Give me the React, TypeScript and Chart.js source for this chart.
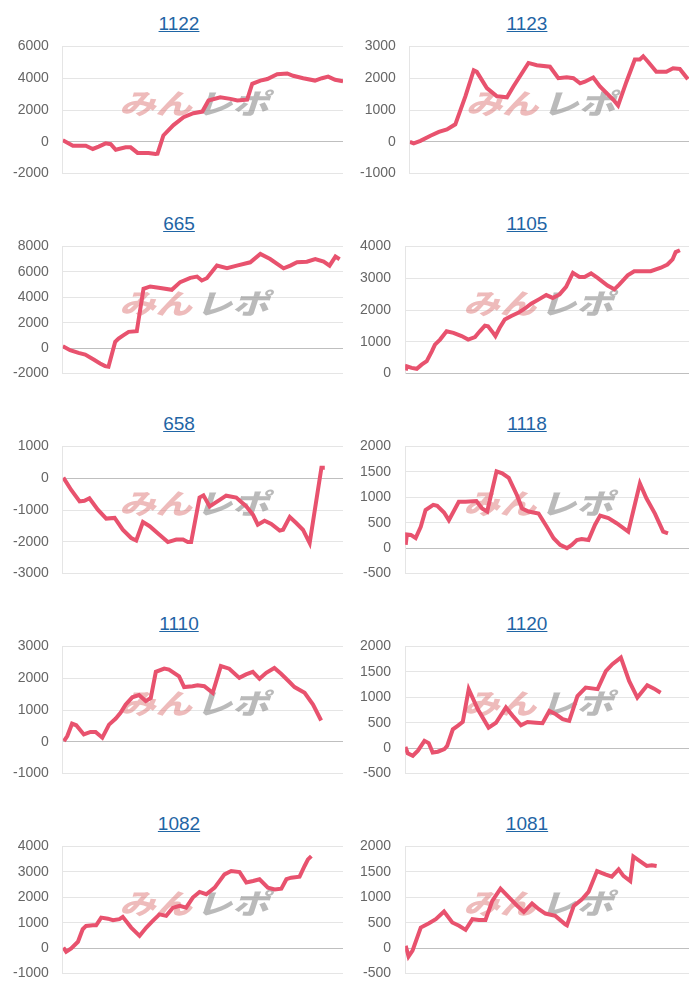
import React, { useEffect, useRef } from "react";
import { Chart, registerables } from "chart.js";

Chart.register(...registerables);

// ---- data ----
const titles = ["1122", "1123", "665", "1105", "658", "1118", "1110", "1120", "1082", "1081"];

const x1122 = [0, 3.6, 8.2, 10.7, 12.8, 15.3, 17.1, 18.9, 22.4, 24.2, 26.7, 30.6, 33.1, 33.8, 35.9, 39.5, 43.1, 46.6, 49.8, 52, 56.2, 59.8, 62.3, 65.8, 67.6, 70.5, 73, 76.5, 80.1, 82.2, 85.8, 90, 92.5, 94.7, 97.2, 100];
const y1122 = [100, -250, -250, -450, -300, -100, -150, -500, -350, -350, -700, -700, -770, -750, 400, 1050, 1550, 1800, 1900, 2600, 2800, 2700, 2600, 2650, 3650, 3850, 3950, 4250, 4300, 4150, 4000, 3850, 4000, 4100, 3900, 3800];

const x1123 = [0, 1.4, 3.8, 7.4, 10.4, 13.3, 16.3, 19.9, 22.9, 24, 27.6, 31.2, 34.8, 37.1, 42.5, 45.5, 50.2, 53.2, 56.2, 58.6, 61, 62.7, 65.7, 68.1, 72.9, 74.6, 77.6, 80.6, 82.4, 83.6, 85.4, 88.3, 91.9, 94.3, 96.7, 99.6];
const y1123 = [0, -50, 30, 190, 310, 390, 550, 1430, 2250, 2200, 1690, 1430, 1400, 1740, 2480, 2410, 2360, 2000, 2030, 2000, 1840, 1890, 2020, 1740, 1320, 1140, 1890, 2590, 2590, 2690, 2510, 2200, 2200, 2310, 2290, 1970];

const x665 = [0, 2.6, 5.6, 8, 11, 13.3, 15.1, 16.3, 18.7, 19.9, 21.7, 23.5, 26.4, 28.8, 31.2, 34.2, 38.9, 41.9, 45.5, 47.9, 49.6, 51.4, 55, 58.6, 62.1, 66.9, 70.5, 74, 78.8, 81.2, 83.6, 87.1, 90.1, 93.1, 95.2, 97.3, 98.8];
const y665 = [160, -160, -370, -500, -890, -1200, -1410, -1460, 500, 760, 1020, 1280, 1330, 4670, 4850, 4750, 4590, 5190, 5530, 5630, 5320, 5500, 6490, 6280, 6490, 6750, 7410, 7010, 6280, 6490, 6750, 6800, 7010, 6800, 6490, 7200, 6990];

const x1105 = [0.2, 0.6, 2.3, 4.1, 5.8, 7.6, 9.4, 10.5, 12.3, 14.6, 17, 19.9, 22.2, 24.6, 26.3, 28.1, 29.2, 31, 31.8, 33.3, 35.1, 37.4, 39.8, 42.1, 44.4, 47.4, 49.7, 52, 54.4, 56.7, 59.1, 61.4, 63.2, 65.5, 67.8, 71.3, 73.7, 75.4, 78.4, 80.7, 84.2, 86.5, 90.1, 92.4, 94.2, 95.3, 96.8];
const y1105 = [100, 230, 180, 150, 280, 390, 700, 910, 1070, 1330, 1280, 1180, 1070, 1150, 1330, 1510, 1490, 1280, 1180, 1440, 1700, 1810, 1910, 2040, 2200, 2350, 2470, 2380, 2490, 2730, 3170, 3040, 3040, 3150, 3010, 2770, 2650, 2800, 3090, 3220, 3220, 3220, 3330, 3430, 3590, 3820, 3880];

const x658 = [0.2, 3, 6, 7.7, 9.5, 12.5, 15.5, 18.5, 21.4, 24.4, 26.2, 28.6, 31, 34.5, 37.5, 40.5, 42.9, 44.6, 45.8, 48.8, 50.2, 52.4, 56, 58.3, 61.9, 65.5, 67.9, 69.6, 72, 74.4, 77.4, 78.6, 81, 83.3, 85.7, 88.1, 92.3, 93.5];
const y658 = [20, -370, -730, -710, -630, -990, -1270, -1250, -1620, -1880, -1960, -1380, -1510, -1780, -2010, -1930, -1930, -2010, -2010, -610, -540, -890, -680, -550, -610, -890, -1150, -1460, -1340, -1440, -1650, -1620, -1220, -1410, -1620, -2040, 330, 330];

const x1118 = [0.2, 0.6, 2, 3.7, 5.5, 7.2, 9.9, 11.3, 13.7, 15.4, 18.9, 21.3, 25.1, 27.1, 28.9, 32.2, 34.2, 36.5, 39.4, 41.2, 43.5, 47, 49.9, 52.3, 54.6, 57, 58.7, 60.5, 62.2, 64.6, 66.9, 68.7, 71.6, 74.5, 78.6, 82.7, 85, 88, 90.9, 92.6];
const y1118 = [65, 270, 260, 200, 420, 750, 850, 830, 700, 550, 910, 910, 925, 780, 720, 1510, 1470, 1380, 1040, 780, 720, 680, 420, 195, 65, 0, 65, 160, 180, 160, 460, 640, 590, 490, 325, 1270, 980, 680, 325, 290];

const x1110 = [0.4, 1.6, 3.3, 4.8, 7.5, 9.9, 11.7, 14.1, 16.5, 18.9, 20.6, 22.4, 24.8, 27.2, 29.6, 31.4, 33.2, 36.2, 37.9, 41.5, 43.3, 46.3, 48.1, 50.5, 53.5, 56.4, 59.4, 63, 65.4, 67.8, 70.2, 72.6, 75.5, 77.9, 80.9, 82.7, 86.3, 89.3, 92.2];
const y1110 = [20, 180, 570, 520, 230, 310, 310, 130, 540, 730, 910, 1170, 1400, 1470, 1280, 1380, 2200, 2300, 2270, 2060, 1720, 1750, 1780, 1750, 1540, 2380, 2300, 2010, 2120, 2200, 1980, 2170, 2320, 2140, 1880, 1720, 1540, 1170, 670];

const x1120 = [0.1, 0.9, 2.7, 4.5, 6.8, 8.3, 9.7, 11.5, 13.8, 14.8, 16.8, 18.5, 20.3, 22.4, 25.6, 29.4, 32, 35.5, 37.9, 40.8, 43.1, 46.1, 48.4, 50.8, 53.1, 55.5, 57.8, 60.7, 63.6, 67.8, 70.7, 73, 76, 78.9, 81.8, 85.3, 87.7, 90];
const y1120 = [25, -100, -150, -50, 145, 100, -85, -70, -20, 45, 370, 440, 515, 1160, 765, 405, 500, 800, 635, 450, 515, 500, 490, 730, 665, 570, 535, 1025, 1190, 1160, 1515, 1650, 1780, 1320, 995, 1235, 1170, 1090];

const x1082 = [0.2, 1.2, 3, 5.4, 7.1, 8.3, 10.7, 11.9, 13.7, 16.1, 17.9, 20.2, 21.4, 24.4, 27.4, 29.8, 32.1, 34.5, 36.9, 39.3, 41.7, 44, 46.4, 48.8, 51.2, 54.2, 57.7, 60.1, 63.1, 65.5, 67.9, 70.2, 73.2, 75.6, 78, 79.8, 81.5, 84.5, 86.3, 87.5, 88.7];
const y1082 = [25, -140, -10, 250, 745, 875, 900, 900, 1200, 1160, 1100, 1140, 1230, 810, 485, 810, 1070, 1330, 1270, 1590, 1660, 1590, 1990, 2210, 2120, 2380, 2900, 3030, 2990, 2580, 2640, 2710, 2380, 2310, 2340, 2710, 2770, 2810, 3230, 3490, 3620];

const x1081 = [0.2, 1.2, 2.6, 5.5, 8.4, 10.8, 13.7, 16.6, 19, 21.3, 23.7, 26, 28.3, 30.7, 33.6, 36.5, 39.5, 41.8, 44.7, 47.1, 49.4, 52.9, 56.4, 57, 59.4, 62.3, 64.6, 67.6, 70.5, 72.8, 75.2, 76.9, 79.3, 80.4, 82.2, 85.1, 86.9, 88.6];
const y1081 = [45, -165, -50, 405, 490, 570, 720, 505, 440, 360, 570, 555, 555, 930, 1170, 1005, 830, 710, 880, 765, 680, 635, 470, 450, 830, 960, 1105, 1515, 1450, 1405, 1550, 1420, 1320, 1800, 1730, 1615, 1630, 1615];

const xSeries = [x1122, x1123, x665, x1105, x658, x1118, x1110, x1120, x1082, x1081];
const ySeries = [y1122, y1123, y665, y1105, y658, y1118, y1110, y1120, y1082, y1081];

const yMins = [-2000, -1000, -2000, 0, -3000, -500, -1000, -500, -1000, -500];
const yMaxs = [6000, 3000, 8000, 4000, 1000, 2000, 3000, 2000, 4000, 2000];
const ySteps = [2000, 1000, 2000, 1000, 1000, 500, 1000, 500, 1000, 500];

const LINE_COLOR = "rgb(232, 82, 110)";
const FONT = "Arial, 'Liberation Sans', sans-serif";

const watermarkPlugin = {
  id: "watermark",
  beforeDatasetsDraw(chart: any) {
    const { ctx, chartArea } = chart;
    const cx = (chartArea.left + chartArea.right) / 2 - 9;
    const cy = (chartArea.top + chartArea.bottom) / 2 - 7;
    ctx.save();
    ctx.translate(cx, cy);
    ctx.scale(1.3, 1);
    ctx.font = "italic 900 28px 'Noto Sans CJK JP', sans-serif";
    ctx.textBaseline = "middle";
    const a = "みん";
    const b = "レポ";
    const gap = 3;
    const wa = ctx.measureText(a).width;
    const wb = ctx.measureText(b).width;
    const start = -(wa + wb + gap) / 2;
    ctx.fillStyle = "rgba(222, 120, 120, 0.5)";
    ctx.fillText(a, start, 0);
    ctx.fillStyle = "rgba(140, 140, 140, 0.6)";
    ctx.fillText(b, start + wa + gap, 0);
    ctx.restore();
  },
};

function MiniChart({ idx }: { idx: number }) {
  const ref = useRef<HTMLCanvasElement | null>(null);
  const col = idx % 2;
  const row = Math.floor(idx / 2);
  const cellLeft = col === 0 ? 0 : 347;
  const cellWidth = col === 0 ? 342 : 344;
  const cellTop = row * 200 - 8;

  useEffect(() => {
    if (!ref.current) return;
    const xs = xSeries[idx];
    const ys = ySeries[idx];
    const chart = new Chart(ref.current, {
      type: "line",
      data: {
        datasets: [
          {
            data: xs.map((x, i) => ({ x, y: ys[i] })),
            borderColor: LINE_COLOR,
            backgroundColor: LINE_COLOR,
            borderWidth: 4,
            pointRadius: 0,
            tension: 0,
            fill: false,
          },
        ],
      },
      options: {
        animation: false,
        responsive: false,
        maintainAspectRatio: false,
        layout: { padding: { left: 2, right: col === 0 ? 7 : 10, top: 0, bottom: 0 } },
        plugins: { legend: { display: false }, tooltip: { enabled: false }, title: { display: false } },
        scales: {
          x: { type: "linear", min: 0, max: 100, display: false },
          y: {
            min: yMins[idx],
            max: yMaxs[idx],
            ticks: {
              stepSize: ySteps[idx],
              color: "#666",
              padding: 3,
              font: { family: FONT, size: 14 },
              callback: (v: any) => String(v),
            },
            grid: {
              drawTicks: true,
              tickLength: 11,
              tickColor: "rgba(0,0,0,0)",
              color: (c: any) => (c.tick && c.tick.value === 0 ? "rgba(0,0,0,0.25)" : "rgba(0,0,0,0.1)"),
            },
            border: { display: true, color: "rgba(0,0,0,0.1)" },
          },
        },
      },
      plugins: [watermarkPlugin],
    });
    return () => chart.destroy();
  }, [idx]);

  return (
    <div style={{ position: "absolute", left: cellLeft, top: cellTop, width: cellWidth, height: 200 }}>
      <div
        style={{
          position: "absolute",
          top: 13,
          left: 0,
          width: cellWidth,
          textAlign: "center",
          fontFamily: FONT,
          fontSize: 19,
          lineHeight: "22px",
        }}
      >
        <a href="#" style={{ color: "#1f65a5", textDecoration: "underline" }}>
          {titles[idx]}
        </a>
      </div>
      <canvas ref={ref} width={cellWidth} height={150} style={{ position: "absolute", top: 35, left: 0 }} />
    </div>
  );
}

export default function App() {
  return (
    <div style={{ position: "relative", width: 684, height: 984 }}>
      {titles.map((_, i) => (
        <MiniChart key={i} idx={i} />
      ))}
    </div>
  );
}
